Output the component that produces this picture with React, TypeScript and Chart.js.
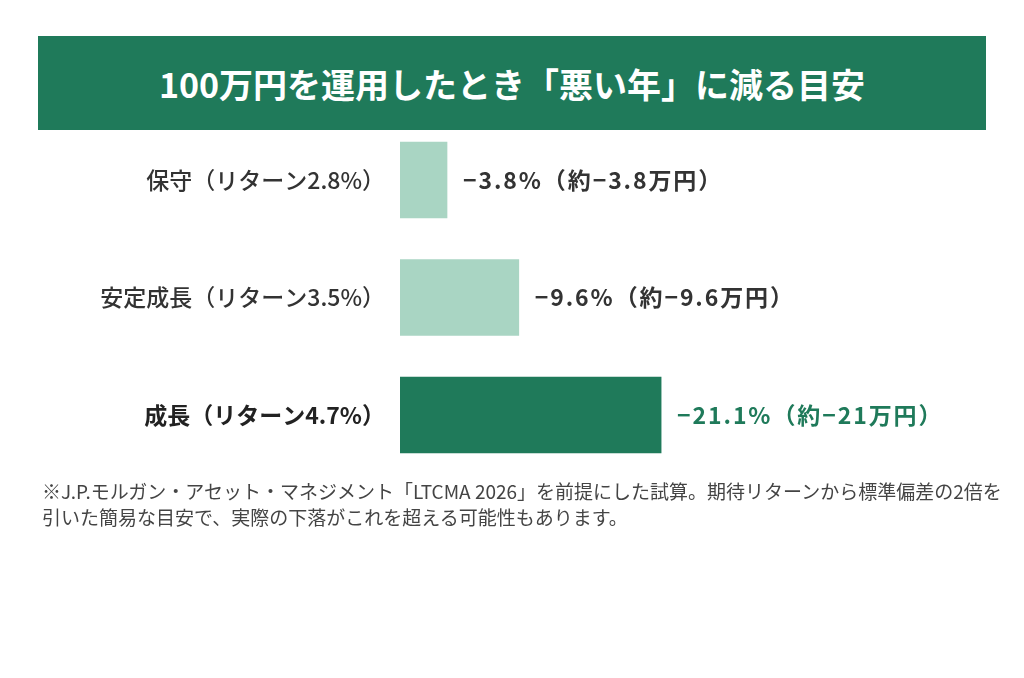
import React, { useEffect, useRef } from 'react';
import { Chart, registerables } from 'chart.js';

Chart.register(...registerables);

const FONT = '"Noto Sans CJK JP", "Noto Sans", sans-serif';

const categories = ['保守（リターン2.8%）', '安定成長（リターン3.5%）', '成長（リターン4.7%）'];
const declines = [3.8, 9.6, 21.1];
const yenLabels = ['約−3.8万円', '約−9.6万円', '約−21万円'];

const GREEN = '#1f7a5a';
const LIGHT = '#a9d5c3';

const valueLabels = {
    id: 'valueLabels',
    afterDatasetsDraw(chart: any) {
        const { ctx } = chart;
        const meta = chart.getDatasetMeta(0);
        ctx.save();
        ctx.font = `bold 23px ${FONT}`;
        ctx.letterSpacing = '1.9px';
        ctx.textBaseline = 'middle';
        ctx.textAlign = 'left';
        meta.data.forEach((bar: any, i: number) => {
            ctx.fillStyle = i === 2 ? GREEN : '#333333';
            ctx.fillText(`−${declines[i].toFixed(1)}%（${yenLabels[i]}）`, bar.x + 16, bar.y);
        });
        ctx.restore();
    }
};

const App = () => {
    const chartRef = useRef<HTMLCanvasElement | null>(null);

    useEffect(() => {
        if (!chartRef.current) return;
        const chart = new Chart(chartRef.current, {
            type: 'bar',
            data: {
                labels: categories,
                datasets: [{
                    data: declines,
                    backgroundColor: [LIGHT, LIGHT, GREEN],
                    borderWidth: 0,
                    barThickness: 76
                }]
            },
            options: {
                indexAxis: 'y',
                animation: false,
                responsive: true,
                maintainAspectRatio: false,
                layout: { padding: { left: 0, right: 129, top: 21.25, bottom: 26.25 } },
                plugins: { legend: { display: false }, tooltip: { enabled: false } },
                scales: {
                    x: { display: false, min: 0, max: 40 },
                    y: {
                        grid: { display: false, drawTicks: false },
                        border: { display: false },
                        afterFit: (s: any) => { s.width = 400; s.paddingTop = 0; s.paddingBottom = 0; },
                        ticks: {
                            padding: 15,
                            color: (c: any) => (c.index === 2 ? '#222222' : '#333333'),
                            font: (c: any) => ({ family: FONT, size: 23, weight: c.index === 2 ? 'bold' : '500' })
                        }
                    }
                }
            },
            plugins: [valueLabels]
        });
        return () => chart.destroy();
    }, []);

    return (
        <div style={{ position: 'fixed', left: 0, top: 0, width: 1024, height: 678, background: '#fff', fontFamily: FONT, overflow: 'hidden' }}>
            <div style={{ position: 'absolute', left: 0, top: 100, width: 1024, height: 400 }}>
                <canvas ref={chartRef}></canvas>
            </div>
            <div style={{ position: 'absolute', left: 38, top: 36, width: 948, height: 94, background: GREEN, color: '#fff', display: 'flex', alignItems: 'center', justifyContent: 'center', fontSize: 34, fontWeight: 'bold' }}>
                100万円を運用したとき「悪い年」に減る目安
            </div>
            <div style={{ position: 'absolute', left: 42, top: 478, fontSize: 19, lineHeight: '26px', color: '#444', whiteSpace: 'nowrap' }}>
                ※J.P.モルガン・アセット・マネジメント「LTCMA 2026」を前提にした試算。期待リターンから標準偏差の2倍を<br />
                引いた簡易な目安で、実際の下落がこれを超える可能性もあります。
            </div>
        </div>
    );
};

export default App;
